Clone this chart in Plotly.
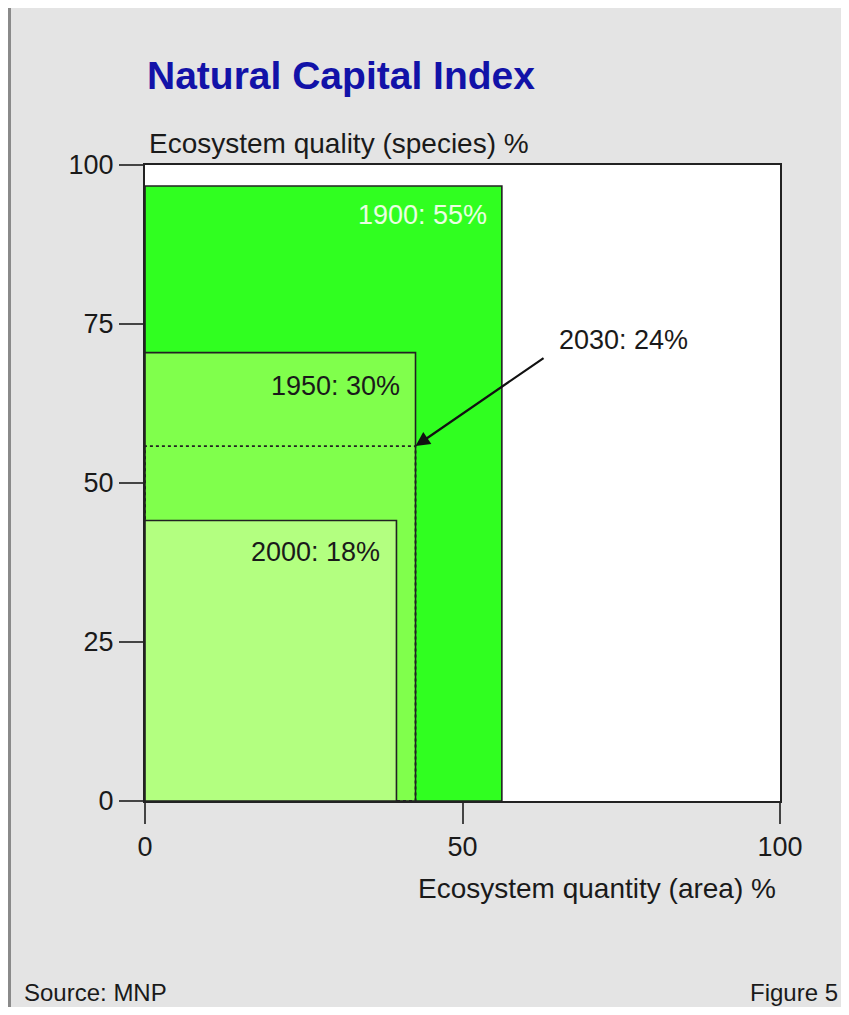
import plotly.graph_objects as go

# ---- data ----
years = ["1900", "1950", "2030", "2000"]
labels = ["1900: 55%", "1950: 30%", "2030: 24%", "2000: 18%"]
quantity = [56.2, 42.6, 42.6, 39.6]   # Ecosystem quantity (area) %
quality = [96.7, 70.5, 55.8, 44.1]    # Ecosystem quality (species) %
x_ticks = [0, 50, 100]
y_ticks = [0, 25, 50, 75, 100]

FONT = "Liberation Sans Narrow, Arial Narrow, Liberation Sans, Arial, sans-serif"
OFF = 8                      # page body margin
W, H = 849 - OFF, 1015 - 2 * OFF
# plot area in page pixels: x 145..780, y 165..801
L = 145 - OFF
T = 165 - OFF
R = W - (780 - OFF)
B = H - (801 - OFF)
PW, PH = W - L - R, H - T - B


def px(xp):   # page x pixel -> paper
    return (xp - OFF - L) / PW


def py(yp):   # page y pixel -> paper
    return (H - B - (yp - OFF)) / PH


fills = {"1900": "#30ff20", "1950": "#80ff4c", "2030": None, "2000": "#b3ff80"}

fig = go.Figure()
fig.add_trace(go.Scatter(x=[0, 100], y=[0, 100], mode="markers",
                         marker=dict(opacity=0), hoverinfo="skip", showlegend=False))

shapes = []
for yr, q, p in zip(years, quantity, quality):
    if fills[yr] is None:
        shapes.append(dict(type="rect", xref="x", yref="y", x0=0, y0=0, x1=q, y1=p,
                           line=dict(color="#222", width=1.8, dash="dot"),
                           fillcolor="rgba(0,0,0,0)", layer="below"))
    else:
        shapes.append(dict(type="rect", xref="x", yref="y", x0=0, y0=0, x1=q, y1=p,
                           line=dict(color="#222", width=1.6),
                           fillcolor=fills[yr], layer="below"))

# page decoration: grey bar at the left edge
shapes.append(dict(type="rect", xref="paper", yref="paper", x0=px(OFF), x1=px(OFF + 3),
                   y0=py(1015), y1=py(OFF), fillcolor="#8a8a8a", line=dict(width=0),
                   layer="below"))

TXT = "#1a1a1a"
LBL = 27
annotations = []
label_style = {
    "1900": dict(dx=-2.0, dy=-4.6, color="#eaffe2"),
    "1950": dict(dx=-2.1, dy=-5.2, color=TXT),
    "2000": dict(dx=-2.3, dy=-5.0, color=TXT),
}
for yr, lab, q, p in zip(years, labels, quantity, quality):
    if yr in label_style:
        s = label_style[yr]
        annotations.append(dict(x=q + s["dx"], y=p + s["dy"], xref="x", yref="y",
                                text=lab, showarrow=False, xanchor="right", yanchor="middle",
                                font=dict(family=FONT, size=LBL, color=s["color"])))
    else:
        annotations.append(dict(x=64.9, y=72.5, xref="x", yref="y", text=lab,
                                showarrow=False, xanchor="left", yanchor="middle",
                                font=dict(family=FONT, size=LBL, color=TXT)))
        annotations.append(dict(x=q, y=p, xref="x", yref="y", ax=63.0, ay=69.8,
                                axref="x", ayref="y", text="", showarrow=True,
                                arrowhead=2, arrowsize=1.3, arrowwidth=2.2,
                                arrowcolor="#111", standoff=0))

annotations += [
    dict(x=0, y=1, xref="paper", yref="paper", yshift=90, xanchor="left", yanchor="middle",
         text="<b>Natural Capital Index</b>", showarrow=False,
         font=dict(family=FONT, size=39, color="#1212a8")),
    dict(x=0, y=1, xref="paper", yref="paper", xshift=2, yshift=22, xanchor="left",
         yanchor="middle", text="Ecosystem quality (species) %", showarrow=False,
         font=dict(family=FONT, size=28, color=TXT)),
    dict(x=1, y=0, xref="paper", yref="paper", xshift=-2, yshift=-87, xanchor="right",
         yanchor="middle", text="Ecosystem quantity (area) %", showarrow=False,
         font=dict(family=FONT, size=28, color=TXT)),
    dict(x=px(22), y=py(992), xref="paper", yref="paper", xanchor="left", yanchor="middle",
         text="Source: MNP", showarrow=False, font=dict(family=FONT, size=24, color=TXT)),
    dict(x=px(840), y=py(992), xref="paper", yref="paper", xanchor="right", yanchor="middle",
         text="Figure 5", showarrow=False, font=dict(family=FONT, size=24, color=TXT)),
]

axis_common = dict(range=[0, 100], showgrid=False, zeroline=False, showline=True,
                   mirror=True, linecolor="#222", linewidth=2, ticks="outside",
                   tickcolor="#444", tickwidth=1.5,
                   tickfont=dict(family=FONT, size=27, color=TXT), fixedrange=True)

fig.update_layout(
    width=W, height=H,
    margin=dict(l=L, r=R, t=T, b=B, pad=0),
    paper_bgcolor="#e4e4e4", plot_bgcolor="white",
    showlegend=False,
    shapes=shapes, annotations=annotations,
    xaxis=dict(axis_common, tickvals=x_ticks, ticklen=21),
    yaxis=dict(axis_common, tickvals=y_ticks, ticklen=24),
)

fig.write_html("out.html")
